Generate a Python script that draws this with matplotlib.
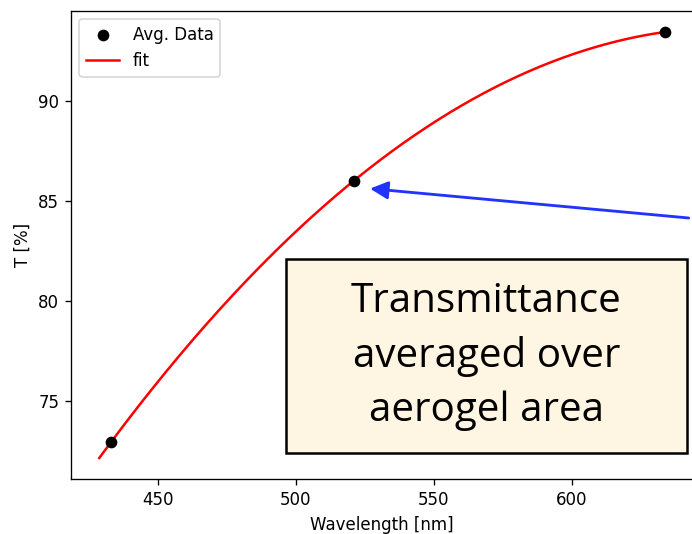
import numpy as np
import matplotlib.pyplot as plt
from matplotlib.patches import Rectangle, FancyArrowPatch

# averaged transmittance at the three laser wavelengths
wavelength = [433.0, 521.0, 633.6]
transmittance = [72.95, 86.0, 93.42]
fit_range = (428.8, 633.6)

# second order fit through the averaged points
coeffs = np.polyfit(wavelength, transmittance, 2)
wl_fit = np.linspace(fit_range[0], fit_range[1], 300)
t_fit = np.polyval(coeffs, wl_fit)

W, H = 692, 534
fig = plt.figure(figsize=(W / 120, H / 120), dpi=120)
ax = fig.add_axes([71 / W, 1 - 479.3 / H, 622 / W, (479.3 - 10.7) / H])
ax.scatter(wavelength, transmittance, color='black', s=36, zorder=3, label='Avg. Data')
ax.plot(wl_fit, t_fit, color='red', lw=1.5, label='fit')
ax.set_xlabel('Wavelength [nm]')
ax.set_ylabel('T [%]')
ax.set_xticks([450, 500, 550, 600])
ax.set_yticks([75, 80, 85, 90])
ax.legend(loc='upper left')

# callout box and arrow on top of the plot
box = Rectangle((286 / W, 1 - 452.7 / H), (686.7 - 286) / W, (452.7 - 259) / H,
                transform=fig.transFigure, facecolor='#fff5e3', edgecolor='black',
                lw=1.5, zorder=5)
fig.patches.append(box)
fig.text(486.3 / W, 1 - 356 / H, 'Transmittance\naveraged over\naerogel area',
         ha='center', va='center', fontsize=24.2, family='Open Sans',
         linespacing=1.45, zorder=6)

arrow = FancyArrowPatch((1.0, 1 - 218.3 / H), (366.7 / W, 1 - 188.3 / H),
                        transform=fig.transFigure, arrowstyle='-|>,head_length=9,head_width=4.5',
                        color='#2233ff', lw=1.7, zorder=6)
fig.patches.append(arrow)

fig.savefig('out.png', dpi=120)
